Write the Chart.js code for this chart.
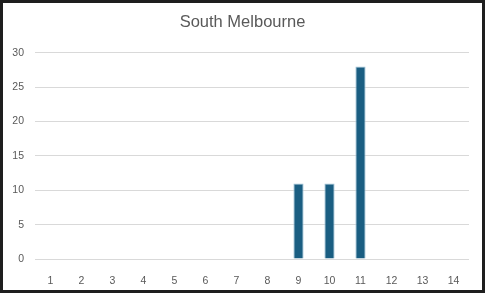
<!DOCTYPE html>
<html>
<head>
<meta charset="utf-8">
<script src="https://cdn.jsdelivr.net/npm/chart.js@4"></script>
<style>
  html, body { margin: 0; padding: 0; background: #1e1e1e; }
  #wrap { position: absolute; left: 3px; top: 3px; width: 479px; height: 287px; background: #fff; }
</style>
</head>
<body>
<div id="wrap"><canvas id="barChart" width="479" height="287"></canvas></div>
<script>
// Chart data
const chartTitle = 'South Melbourne';
const categories = ['1', '2', '3', '4', '5', '6', '7', '8', '9', '10', '11', '12', '13', '14'];
const seriesValues = [0, 0, 0, 0, 0, 0, 0, 0, 11, 11, 28, 0, 0, 0];
const yTicks = [0, 5, 10, 15, 20, 25, 30];

const textColor = '#595959';
const fontFamily = '"Liberation Sans", Arial, sans-serif';

const ctx = document.getElementById('barChart').getContext('2d');

new Chart(ctx, {
  type: 'bar',
  data: {
    labels: categories,
    datasets: [{
      label: chartTitle,
      data: seriesValues,
      backgroundColor: '#1a5e82',
      borderColor: '#9fc3d8',
      borderWidth: 1,
      categoryPercentage: 1,
      barPercentage: 0.33
    }]
  },
  options: {
    responsive: false,
    animation: false,
    layout: { padding: 0 },
    plugins: {
      legend: { display: false },
      tooltip: { enabled: false },
      title: {
        display: true,
        text: chartTitle,
        color: textColor,
        font: { family: fontFamily, size: 16.5, weight: 'normal' },
        padding: { top: 10, bottom: 20 }
      }
    },
    scales: {
      x: {
        grid: { display: false },
        border: { display: false },
        ticks: {
          color: textColor,
          font: { family: fontFamily, size: 10.5 },
          padding: 8,
          maxRotation: 0
        },
        afterFit: function (scale) { scale.height = 31; }
      },
      y: {
        min: yTicks[0],
        max: yTicks[yTicks.length - 1],
        grid: { color: '#d9d9d9', lineWidth: 1, drawTicks: false },
        border: { display: false },
        ticks: {
          stepSize: yTicks[1] - yTicks[0],
          color: textColor,
          font: { family: fontFamily, size: 10.5 },
          padding: 11
        },
        afterFit: function (scale) { scale.width = 32; }
      },
      // empty right-hand spacer so the title stays centred on the whole chart
      spacer: {
        type: 'linear',
        position: 'right',
        grid: { display: false },
        border: { display: false },
        ticks: { display: false },
        afterFit: function (scale) { scale.width = 13; }
      }
    }
  }
});
</script>
</body>
</html>
